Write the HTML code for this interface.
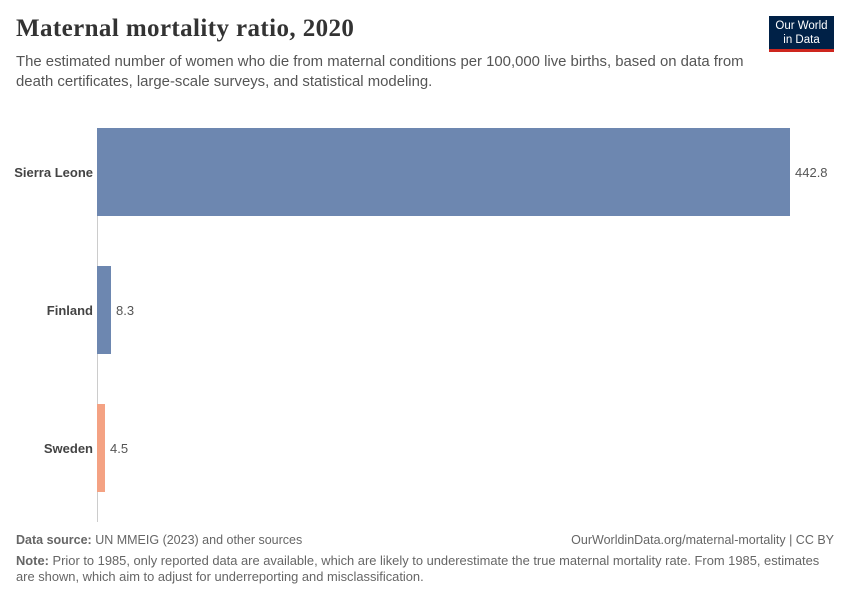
<!DOCTYPE html>
<html><head><meta charset="utf-8"><style>
body{margin:0;width:850px;height:600px;background:#fff;font-family:"Liberation Sans",sans-serif;position:relative;overflow:hidden}
.a{position:absolute;white-space:nowrap}
</style></head><body>
<div class="a" style="left:16px;top:15px;font-family:'Liberation Serif',serif;font-size:25px;font-weight:bold;color:#333;letter-spacing:0.4px">Maternal mortality ratio, 2020</div>
<div class="a" style="left:16px;top:52px;font-size:14.9px;color:#555;line-height:20px">The estimated number of women who die from maternal conditions per 100,000 live births, based on data from<br>death certificates, large-scale surveys, and statistical modeling.</div>
<div class="a" style="left:769px;top:16px;width:65px;height:36px;background:#002147;border-bottom:3px solid #ce261e;color:#fff;font-size:11.5px;text-align:center;line-height:14px;padding-top:3px;box-sizing:border-box">Our World<br>in Data</div>
<div class="a" style="left:97px;top:128px;width:1px;height:394px;background:#ccc"></div>
<div class="a" style="left:97px;top:128px;width:693px;height:88px;background:#6d87b0"></div>
<div class="a" style="left:97px;top:266px;width:14px;height:88px;background:#6d87b0"></div>
<div class="a" style="left:97px;top:404px;width:8px;height:88px;background:#f4a283"></div>
<div class="a" style="right:757px;top:165px;font-size:13px;font-weight:bold;color:#444">Sierra Leone</div>
<div class="a" style="right:757px;top:303px;font-size:13px;font-weight:bold;color:#444">Finland</div>
<div class="a" style="right:757px;top:441px;font-size:13px;font-weight:bold;color:#444">Sweden</div>
<div class="a" style="left:795px;top:165px;font-size:13px;color:#555">442.8</div>
<div class="a" style="left:116px;top:303px;font-size:13px;color:#555">8.3</div>
<div class="a" style="left:110px;top:441px;font-size:13px;color:#555">4.5</div>
<div class="a" style="left:16px;top:533px;font-size:12.5px;color:#666"><b>Data source:</b> UN MMEIG (2023) and other sources</div>
<div class="a" style="right:16px;top:533px;font-size:12.5px;color:#666">OurWorldinData.org/maternal-mortality | CC BY</div>
<div class="a" style="left:16px;top:553px;font-size:12.9px;color:#666;line-height:16px"><b>Note:</b> Prior to 1985, only reported data are available, which are likely to underestimate the true maternal mortality rate. From 1985, estimates<br>are shown, which aim to adjust for underreporting and misclassification.</div>
</body></html>
